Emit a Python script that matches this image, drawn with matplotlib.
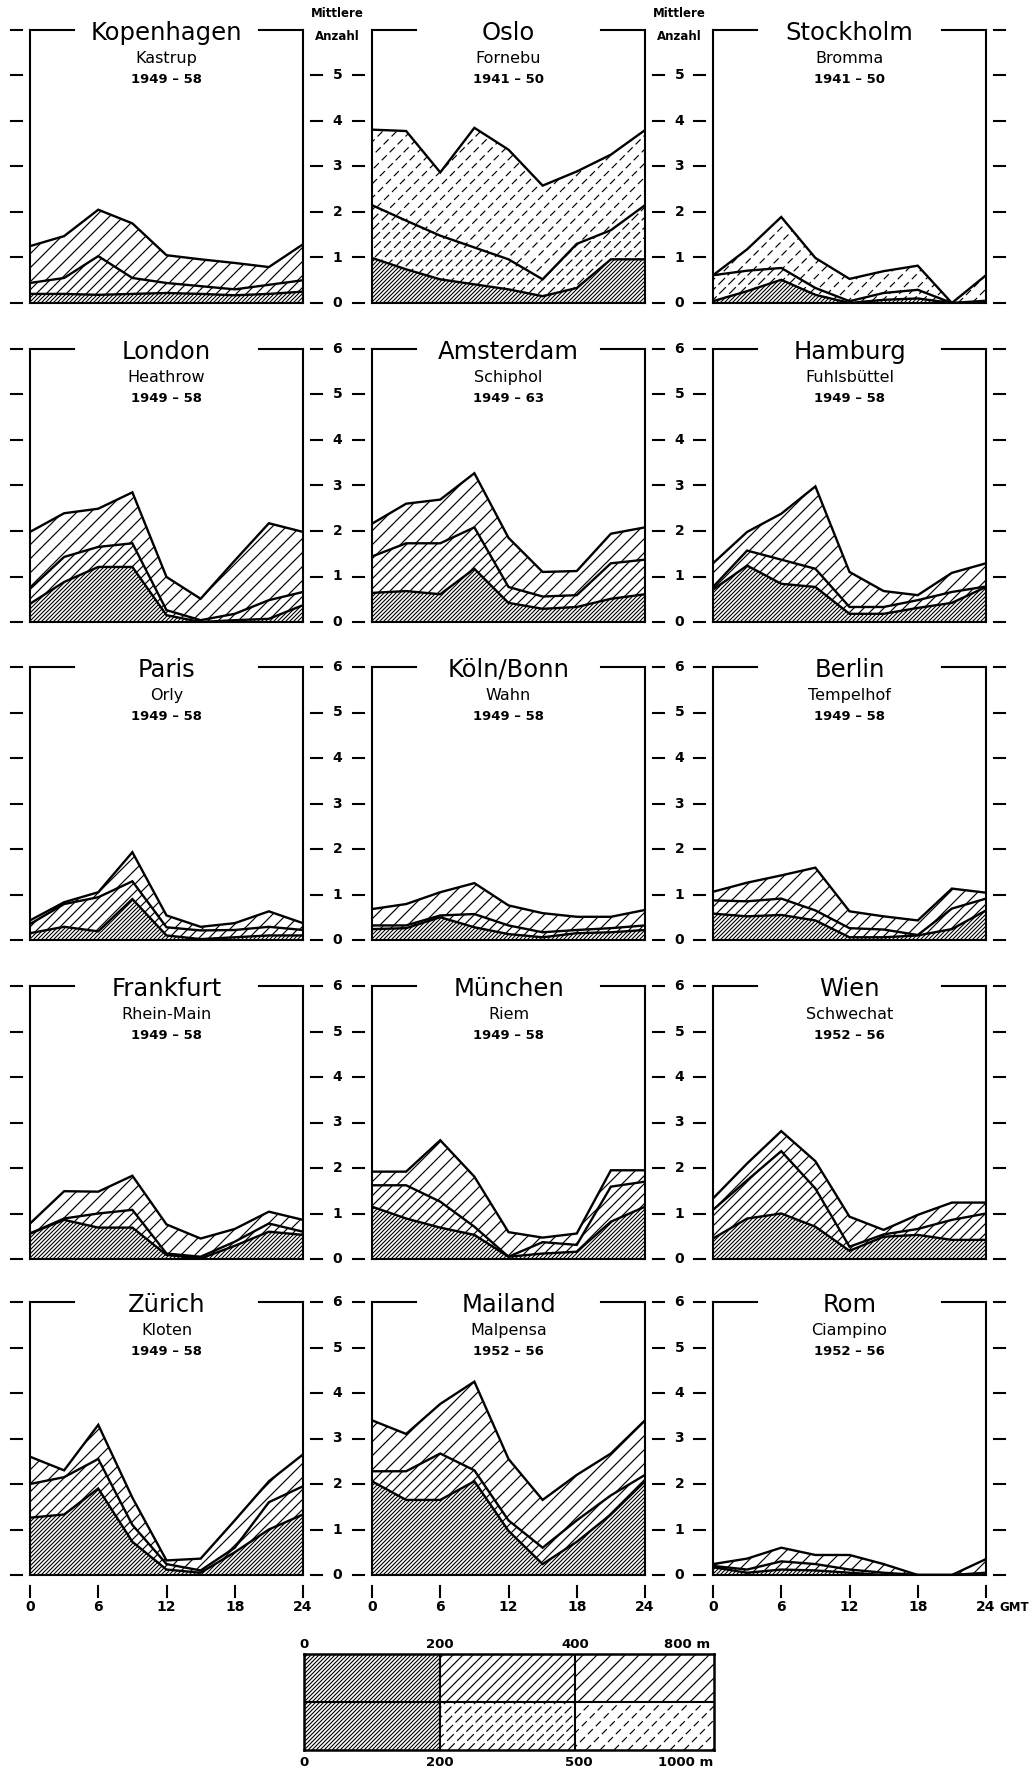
import numpy as np
import matplotlib
matplotlib.use("Agg")
import matplotlib.pyplot as plt
from matplotlib.patches import Polygon
from matplotlib.collections import LineCollection

# --- data: cumulative mean counts (0-200 m, up to 400/500 m, up to 800/1000 m)
hours = [0, 3, 6, 9, 12, 15, 18, 21, 24]

kopenhagen_lo = [0.20, 0.20, 0.18, 0.20, 0.22, 0.20, 0.17, 0.20, 0.25]
kopenhagen_mid = [0.44, 0.55, 1.03, 0.55, 0.44, 0.37, 0.30, 0.40, 0.50]
kopenhagen_hi = [1.25, 1.47, 2.05, 1.75, 1.05, 0.96, 0.88, 0.79, 1.29]

oslo_lo = [0.99, 0.74, 0.52, 0.41, 0.30, 0.15, 0.33, 0.96, 0.96]
oslo_mid = [2.15, 1.81, 1.48, 1.22, 0.96, 0.52, 1.30, 1.60, 2.15]
oslo_hi = [3.81, 3.78, 2.87, 3.85, 3.37, 2.58, 2.89, 3.26, 3.80]

stockholm_lo = [0.04, 0.26, 0.51, 0.18, 0.00, 0.07, 0.10, 0.00, 0.00]
stockholm_mid = [0.61, 0.71, 0.77, 0.33, 0.04, 0.22, 0.29, 0.00, 0.05]
stockholm_hi = [0.61, 1.18, 1.89, 0.99, 0.53, 0.70, 0.82, 0.00, 0.61]

london_lo = [0.40, 0.88, 1.21, 1.21, 0.15, 0.00, 0.04, 0.07, 0.37]
london_mid = [0.73, 1.43, 1.65, 1.73, 0.26, 0.04, 0.18, 0.48, 0.66]
london_hi = [1.98, 2.39, 2.49, 2.85, 0.99, 0.51, 1.35, 2.17, 1.98]

amsterdam_lo = [0.64, 0.68, 0.61, 1.17, 0.42, 0.29, 0.33, 0.51, 0.61]
amsterdam_mid = [1.44, 1.73, 1.73, 2.08, 0.77, 0.56, 0.59, 1.29, 1.37]
amsterdam_hi = [2.16, 2.60, 2.69, 3.27, 1.85, 1.10, 1.12, 1.94, 2.08]

hamburg_lo = [0.71, 1.24, 0.84, 0.77, 0.18, 0.18, 0.31, 0.42, 0.77]
hamburg_mid = [0.77, 1.57, 1.37, 1.17, 0.33, 0.33, 0.48, 0.66, 0.78]
hamburg_hi = [1.29, 1.98, 2.38, 2.98, 1.10, 0.68, 0.59, 1.08, 1.29]

paris_lo = [0.15, 0.29, 0.19, 0.90, 0.10, 0.02, 0.06, 0.10, 0.10]
paris_mid = [0.35, 0.79, 0.94, 1.29, 0.28, 0.21, 0.22, 0.29, 0.22]
paris_hi = [0.43, 0.83, 1.05, 1.93, 0.54, 0.29, 0.37, 0.63, 0.37]

koeln_lo = [0.24, 0.26, 0.50, 0.28, 0.13, 0.06, 0.15, 0.17, 0.22]
koeln_mid = [0.32, 0.32, 0.54, 0.57, 0.32, 0.17, 0.22, 0.26, 0.32]
koeln_hi = [0.68, 0.79, 1.05, 1.25, 0.76, 0.59, 0.51, 0.51, 0.66]

berlin_lo = [0.58, 0.52, 0.55, 0.43, 0.06, 0.06, 0.10, 0.24, 0.65]
berlin_mid = [0.87, 0.85, 0.91, 0.65, 0.26, 0.23, 0.11, 0.69, 0.91]
berlin_hi = [1.06, 1.26, 1.42, 1.59, 0.63, 0.52, 0.43, 1.13, 1.04]

frankfurt_lo = [0.56, 0.86, 0.69, 0.69, 0.09, 0.01, 0.29, 0.60, 0.53]
frankfurt_mid = [0.56, 0.89, 1.00, 1.08, 0.12, 0.05, 0.38, 0.78, 0.60]
frankfurt_hi = [0.78, 1.49, 1.48, 1.83, 0.76, 0.45, 0.66, 1.04, 0.86]

muenchen_lo = [1.15, 0.89, 0.69, 0.53, 0.05, 0.12, 0.16, 0.82, 1.15]
muenchen_mid = [1.62, 1.62, 1.26, 0.71, 0.05, 0.37, 0.31, 1.59, 1.70]
muenchen_hi = [1.92, 1.92, 2.61, 1.81, 0.59, 0.47, 0.56, 1.95, 1.95]

wien_lo = [0.45, 0.89, 1.00, 0.71, 0.18, 0.49, 0.53, 0.42, 0.42]
wien_mid = [1.08, 1.73, 2.37, 1.55, 0.27, 0.54, 0.66, 0.86, 1.00]
wien_hi = [1.33, 2.10, 2.81, 2.15, 0.93, 0.64, 0.97, 1.24, 1.24]

zuerich_lo = [1.26, 1.33, 1.90, 0.73, 0.12, 0.05, 0.50, 1.00, 1.33]
zuerich_mid = [2.00, 2.15, 2.55, 1.10, 0.24, 0.10, 0.60, 1.60, 1.95]
zuerich_hi = [2.60, 2.30, 3.30, 1.70, 0.32, 0.36, 1.20, 2.06, 2.65]

mailand_lo = [2.06, 1.65, 1.65, 2.06, 0.97, 0.24, 0.73, 1.33, 2.06]
mailand_mid = [2.28, 2.28, 2.67, 2.30, 1.20, 0.60, 1.20, 1.75, 2.20]
mailand_hi = [3.40, 3.10, 3.76, 4.25, 2.55, 1.65, 2.20, 2.67, 3.40]

rom_lo = [0.17, 0.05, 0.12, 0.10, 0.05, 0.00, 0.00, 0.00, 0.00]
rom_mid = [0.20, 0.12, 0.30, 0.24, 0.12, 0.05, 0.00, 0.00, 0.05]
rom_hi = [0.24, 0.36, 0.60, 0.44, 0.44, 0.24, 0.00, 0.00, 0.35]

cities = ["Kopenhagen", "Oslo", "Stockholm",
          "London", "Amsterdam", "Hamburg",
          "Paris", "Köln/Bonn", "Berlin",
          "Frankfurt", "München", "Wien",
          "Zürich", "Mailand", "Rom"]
airports = ["Kastrup", "Fornebu", "Bromma",
            "Heathrow", "Schiphol", "Fuhlsbüttel",
            "Orly", "Wahn", "Tempelhof",
            "Rhein-Main", "Riem", "Schwechat",
            "Kloten", "Malpensa", "Ciampino"]
periods = ["1949 – 58", "1941 – 50", "1941 – 50",
           "1949 – 58", "1949 – 63", "1949 – 58",
           "1949 – 58", "1949 – 58", "1949 – 58",
           "1949 – 58", "1949 – 58", "1952 – 56",
           "1949 – 58", "1952 – 56", "1952 – 56"]
series = [(kopenhagen_lo, kopenhagen_mid, kopenhagen_hi),
          (oslo_lo, oslo_mid, oslo_hi),
          (stockholm_lo, stockholm_mid, stockholm_hi),
          (london_lo, london_mid, london_hi),
          (amsterdam_lo, amsterdam_mid, amsterdam_hi),
          (hamburg_lo, hamburg_mid, hamburg_hi),
          (paris_lo, paris_mid, paris_hi),
          (koeln_lo, koeln_mid, koeln_hi),
          (berlin_lo, berlin_mid, berlin_hi),
          (frankfurt_lo, frankfurt_mid, frankfurt_hi),
          (muenchen_lo, muenchen_mid, muenchen_hi),
          (wien_lo, wien_mid, wien_hi),
          (zuerich_lo, zuerich_mid, zuerich_hi),
          (mailand_lo, mailand_mid, mailand_hi),
          (rom_lo, rom_mid, rom_hi)]
# stations counted with the 200/500/1000 m classes (dashed hatching)
dashed_stations = ["Oslo", "Stockholm"]

legend_top = ["0", "200", "400", "800 m"]
legend_bottom = ["0", "200", "500", "1000 m"]

# --- layout (pixels)
FW, FH = 1032, 1777
W, H = 273, 273
col_left = [30, 372, 713]
row_bottom = [303, 622, 940, 1259, 1575]

NARROW = ['Liberation Sans Narrow', 'DejaVu Sans']
LINE_LW = 1.7
# step in px, linewidth, dash pattern used for the 500/1000 m classes
HATCH = {'lo': (4.0, 0.8, None), 'mid': (10.0, 0.85, (0, (8, 3))),
         'hi': (14.0, 0.85, (0, (6, 3.5)))}

fig = plt.figure(figsize=(FW / 100, FH / 100), dpi=100)


def rect(left, bottom, w, h):
    return [left / FW, 1 - bottom / FH, w / FW, h / FH]


def hatch_area(ax, patch, w_px, h_px, step, lw, dashes):
    # "/" lines at 45 degrees on screen, clipped to the patch
    r = h_px / w_px
    cs = np.arange(-r, 1 + step / w_px, step / w_px)
    segs = [[(c, 0), (c + r, 1)] for c in cs]
    lc = LineCollection(segs, colors='black', linewidths=lw,
                        linestyles=[dashes] if dashes else 'solid',
                        transform=ax.transAxes)
    ax.add_collection(lc, autolim=False)
    lc.set_clip_path(patch)  # after adding, else the axes patch replaces it


def add_poly(ax, verts):
    patch = Polygon(verts, closed=True, facecolor='none', edgecolor='none',
                    transform=ax.transData)
    ax.add_patch(patch)
    return patch


for i, name in enumerate(cities):
    r, c = divmod(i, 3)
    ax = fig.add_axes(rect(col_left[c], row_bottom[r], W, H))
    ax.set_xlim(0, 24)
    ax.set_ylim(0, 6)
    ax.set_xticks([])
    ax.set_yticks([])
    ax.spines['top'].set_visible(False)
    for s in ['left', 'right', 'bottom']:
        ax.spines[s].set_linewidth(1.5)

    x = np.array(hours, dtype=float)
    lo, mid, hi = [np.array(v) for v in series[i]]
    zero = np.zeros_like(x)
    dashed = name in dashed_stations
    for key, y0, y1 in [('lo', zero, lo), ('mid', lo, mid), ('hi', mid, hi)]:
        verts = np.column_stack([np.r_[x, x[::-1]], np.r_[y1, y0[::-1]]])
        patch = add_poly(ax, verts)
        step, lw, dash = HATCH[key]
        hatch_area(ax, patch, W, H, step, lw, dash if (dashed and key != 'lo') else None)
    for y in (lo, mid, hi):
        ax.plot(x, y, color='black', lw=LINE_LW, solid_joinstyle='miter')

    # broken top border
    ax.plot([0, 0.16], [1, 1], color='black', lw=1.5, transform=ax.transAxes, clip_on=False)
    ax.plot([0.84, 1], [1, 1], color='black', lw=1.5, transform=ax.transAxes, clip_on=False)

    ax.text(0.5, 0.99, name, transform=ax.transAxes, ha='center', va='center',
            fontsize=17.5, family='DejaVu Sans')
    ax.text(0.5, 0.897, airports[i], transform=ax.transAxes, ha='center', va='center',
            fontsize=11.5, family='DejaVu Sans')
    ax.text(0.5, 0.82, periods[i], transform=ax.transAxes, ha='center', va='center',
            fontsize=9.5, weight='bold', family=NARROW)

    # tick dashes beside the panel
    tr = ax.get_yaxis_transform()
    for lev in range(7):
        top_gap = (r == 0 and lev == 6)
        if c == 0 or not top_gap:
            ax.plot([-0.07, -0.028], [lev, lev], color='black', lw=1.5,
                    transform=tr, clip_on=False)
        if c == 2 or not top_gap:
            ax.plot([1.028, 1.07], [lev, lev], color='black', lw=1.5,
                    transform=tr, clip_on=False)
        if c < 2:
            if top_gap:
                ax.text(1.126, 6.36, "Mittlere", transform=tr, ha='center', va='center',
                        fontsize=8.5, weight='bold', family=NARROW)
                ax.text(1.126, 5.86, "Anzahl", transform=tr, ha='center', va='center',
                        fontsize=8.5, weight='bold', family=NARROW)
            else:
                ax.text(1.126, lev, str(lev), transform=tr, ha='center', va='center',
                        fontsize=10, weight='bold', family=NARROW)

    # hour axis on the bottom row
    if r == 4:
        xt = ax.get_xaxis_transform()
        for h in [0, 6, 12, 18, 24]:
            ax.plot([h, h], [-0.04, -0.08], color='black', lw=1.5, transform=xt, clip_on=False)
            ax.text(h, -0.118, str(h), transform=xt, ha='center', va='center',
                    fontsize=10, weight='bold', family=NARROW)
        if c == 2:
            ax.text(1.05, -0.118, "GMT", transform=ax.transAxes, ha='left', va='center',
                    fontsize=8.5, weight='bold', family=NARROW)

# --- legend box
LW_, LH_ = 410, 96
lax = fig.add_axes(rect(304, 1750, LW_, LH_))
lax.set_xlim(0, 1)
lax.set_ylim(0, 1)
lax.set_xticks([])
lax.set_yticks([])
for s in lax.spines.values():
    s.set_linewidth(1.8)
edges = [0, 136 / 410, 271 / 410, 1]
keys = ['lo', 'mid', 'hi']
for row, (y0, y1) in enumerate([(0.5, 1.0), (0.0, 0.5)]):
    for k in range(3):
        x0, x1 = edges[k], edges[k + 1]
        cell = add_poly(lax, [(x0, y0), (x1, y0), (x1, y1), (x0, y1)])
        step, lw, dash = HATCH[keys[k]]
        hatch_area(lax, cell, LW_, LH_, step, lw, dash if (row == 1 and k > 0) else None)
lax.axhline(0.5, color='black', lw=1.5)
for e in edges[1:3]:
    lax.axvline(e, color='black', lw=1.5)

for k, lab in enumerate(legend_top):
    xpos = edges[k] if k < 3 else 0.935
    lax.text(xpos, 1.1, lab, transform=lax.transAxes, ha='center', va='center',
             fontsize=9.5, weight='bold', family=NARROW)
for k, lab in enumerate(legend_bottom):
    xpos = edges[k] if k < 3 else 0.93
    if k == 2:
        xpos = edges[k] + 0.01
    lax.text(xpos, -0.125, lab, transform=lax.transAxes, ha='center', va='center',
             fontsize=9.5, weight='bold', family=NARROW)

fig.savefig("out.png", dpi=100, facecolor='white')
